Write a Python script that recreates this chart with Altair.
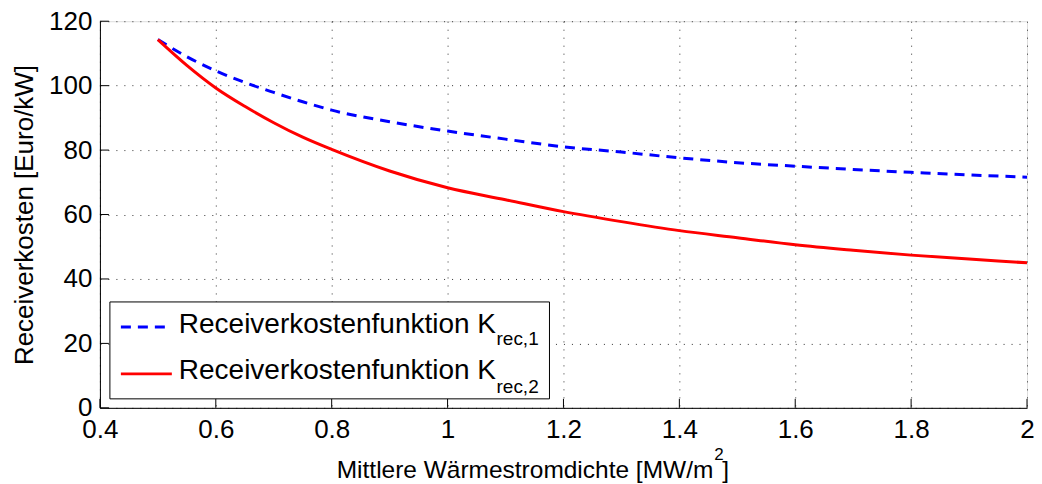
import altair as alt
import pandas as pd

# ---- data ----
x_vals = [0.5, 0.55, 0.6, 0.65, 0.7, 0.75, 0.8, 0.9, 1.0, 1.1, 1.2, 1.3, 1.4, 1.5, 1.6, 1.7, 1.8, 1.9, 2.0]
k_rec1 = [114.3, 109.0, 104.6, 101.0, 97.9, 95.0, 92.4, 88.8, 85.9, 83.4, 81.0, 79.4, 77.6, 76.1, 75.0, 74.0, 73.1, 72.3, 71.6]
k_rec2 = [114.3, 106.3, 99.3, 93.6, 88.5, 84.0, 80.2, 73.5, 68.3, 64.6, 60.9, 57.8, 55.0, 52.8, 50.6, 48.9, 47.4, 46.2, 45.0]

x_ticks = [0.4, 0.6, 0.8, 1.0, 1.2, 1.4, 1.6, 1.8, 2.0]
y_ticks = [0, 20, 40, 60, 80, 100, 120]

legend_main = ["Receiverkostenfunktion K", "Receiverkostenfunktion K"]
legend_subs = ["rec,1", "rec,2"]
x_title_main = "Mittlere Wärmestromdichte [MW/m"
x_title_sup = "2"
x_title_end = "]"
y_title = "Receiverkosten [Euro/kW]"

FONT = "Liberation Sans"
W, H = 928, 387

df1 = pd.DataFrame({"x": x_vals, "y": k_rec1})
df2 = pd.DataFrame({"x": x_vals, "y": k_rec2})

xs = alt.Scale(domain=[0.4, 2.0], nice=False, zero=False)
ys = alt.Scale(domain=[0, 120], nice=False, zero=False)

x_axis = alt.Axis(values=x_ticks, format="~g", grid=True, ticks=False, labelFlush=False,
                  labelPadding=9, title=None, labelFontSize=26, labelFont=FONT, labelColor="black",
                  gridDash=[1, 7], gridColor="#333", gridWidth=1, gridOpacity=1,
                  domainColor="black", domainWidth=1)
y_axis = alt.Axis(values=y_ticks, grid=True, ticks=False, labelFlush=False, labelPadding=8,
                  title=y_title, titleFontSize=26, titleFont=FONT, titleFontWeight="normal",
                  titleColor="black", titlePadding=11,
                  labelFontSize=26, labelFont=FONT, labelColor="black",
                  gridDash=[1, 7], gridColor="#333", gridWidth=1, gridOpacity=1,
                  domainColor="black", domainWidth=1)

X = alt.X("x:Q", scale=xs, axis=x_axis)
Y = alt.Y("y:Q", scale=ys, axis=y_axis)

line1 = alt.Chart(df1).mark_line(color="#0000ff", strokeWidth=3, strokeDash=[10, 7],
                                 interpolate="monotone").encode(x=X, y=Y)
line2 = alt.Chart(df2).mark_line(color="#ff0000", strokeWidth=3,
                                 interpolate="monotone").encode(x=X, y=Y)

# inward ticks
xt = alt.Chart(pd.DataFrame({"x": x_ticks})).mark_rule(color="black", strokeWidth=1).encode(
    x=X, y=alt.value(H), y2=alt.value(H - 9))
yt = alt.Chart(pd.DataFrame({"y": y_ticks})).mark_rule(color="black", strokeWidth=1).encode(
    y=Y, x=alt.value(0), x2=alt.value(9))

# legend box
leg_box = alt.Chart(pd.DataFrame({"a": [0]})).mark_rect(fill="white", stroke="black", strokeWidth=1).encode(
    x=alt.value(10), x2=alt.value(450), y=alt.value(281), y2=alt.value(378))
leg_l1 = alt.Chart(pd.DataFrame({"a": [0]})).mark_rule(color="#0000ff", strokeWidth=3, strokeDash=[10, 7]).encode(
    x=alt.value(21), x2=alt.value(72), y=alt.value(306))
leg_l2 = alt.Chart(pd.DataFrame({"a": [0]})).mark_rule(color="#ff0000", strokeWidth=3).encode(
    x=alt.value(21), x2=alt.value(72), y=alt.value(353))


def txt(s, x, y, size, align="left"):
    return alt.Chart(pd.DataFrame({"t": [s]})).mark_text(
        align=align, baseline="alphabetic", font=FONT, fontSize=size, color="black"
    ).encode(text="t:N", x=alt.value(x), y=alt.value(y))


leg_t1 = txt(legend_main[0], 79, 312, 28)
leg_s1 = txt(legend_subs[0], 397, 324, 19)
leg_t2 = txt(legend_main[1], 79, 358, 28)
leg_s2 = txt(legend_subs[1], 397, 372, 19)

xt_main = txt(x_title_main, 614, 457, 24.5, align="right")
xt_sup = txt(x_title_sup, 615, 439, 17)
xt_end = txt(x_title_end, 623, 457, 24.5)

chart = alt.layer(
    line1, line2, xt, yt, leg_box, leg_l1, leg_l2, leg_t1, leg_s1, leg_t2, leg_s2,
    xt_main, xt_sup, xt_end
).properties(
    width=W, height=H,
    padding={"left": 92, "top": 13, "right": 7, "bottom": 76},
    autosize=alt.AutoSizeParams(type="none"),
).configure_view(stroke=None).configure(background="white")

chart.save("out.html", embed_options={"renderer": "svg", "actions": False})
